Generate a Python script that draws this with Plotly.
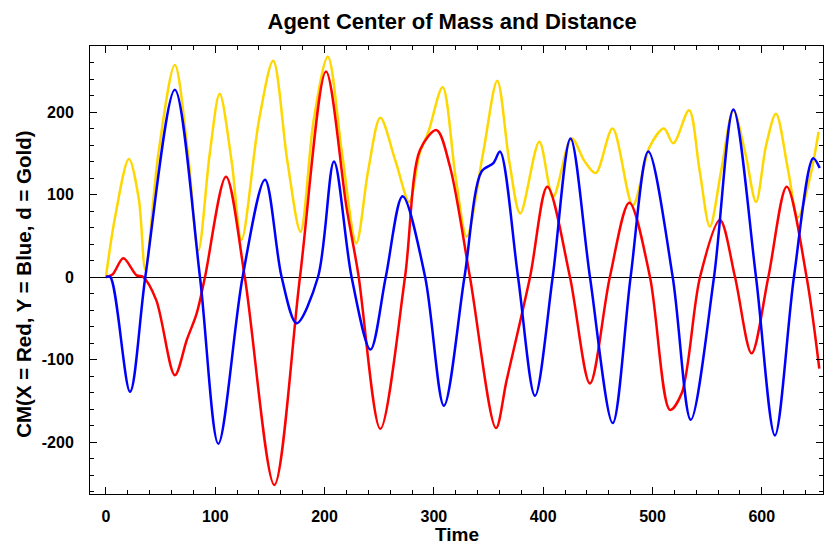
import plotly.graph_objects as go

# Gold: distance d
gold_t = [0, 8, 21, 30, 36, 48, 63, 75, 84.5, 95, 104, 115, 124, 140, 153, 166, 178, 190, 203,
          216, 229, 240, 251, 265, 277.5, 287, 295, 308, 320, 330, 345, 358, 369, 379, 396.5,
          409, 426, 438, 448, 463.5, 482, 497.5, 510.5, 519, 533.5, 543, 552.5, 563, 574, 585,
          594.7, 604, 613, 624, 633, 644, 652]
gold_v = [0, 70, 143, 95, 9, 150, 257, 150, 32, 150, 222, 140, 45, 190, 262, 140, 55, 190, 267,
          150, 41, 130, 193, 140, 91, 150, 176, 230, 120, 49, 150, 238, 140, 77, 164,
          97, 168, 140, 126, 180, 87, 158, 180, 162, 202, 130, 61, 130, 202, 150,
          91, 160, 198, 130, 72, 120, 176]

# Blue: Y
blue_t = [0, 4, 22, 36, 63, 86, 102.8, 125, 145.5, 160.7, 174.4, 194, 208.6, 224.7, 242, 256,
          271.4, 292, 309.2, 328, 343.7, 354.4, 360.5, 377, 392.5, 408.7, 425, 442.8, 463.6,
          480, 496.2, 518.5, 535, 556.3, 574, 594.7, 612, 629.4, 647, 653]
blue_v = [0, 0, -139, 0, 227, 0, -202, 0, 118, 0, -56, 0, 140, 0, -88, 0,
          98, 0, -156, 0, 128, 138, 152, 0, -144, 0, 168, 0, -177,
          0, 152, 0, -173, 0, 203, 0, -192, 0, 144, 132]

# Red: X
red_t = [0, 6, 15.9, 28, 34, 46, 63, 74, 83, 90.6, 109.8, 127, 154, 177.5, 201.3, 220, 230.8,
         251, 273.6, 287.3, 302.5, 314.7, 333, 356.8, 366.6, 388, 403.8, 424.5, 442.8, 461,
         478.8, 497.7, 516, 526.7, 543.5, 561.7, 575.5, 590.7, 606, 622.8, 641, 652.6]
red_v = [0, 3, 22.6, 2, 0, -28, -119, -76, -44, 0, 121.6, 0, -252, 0, 249, 85, 4,
         -184, 0, 154, 178, 134, 0, -183, -125, 0, 109.5, 0, -129, 0,
         90, 0, -161, -141, 0, 69, 0, -92.5, 0, 109.5, 0, -111]

x_ticks = [0, 100, 200, 300, 400, 500, 600]
y_ticks = [-200, -100, 0, 100, 200]
y_tick_text = ["-200", "-100", "0", "100", "200"]

FONT = "Liberation Sans, Arial, sans-serif"
LW = 2.5

fig = go.Figure()
fig.add_trace(go.Scatter(x=gold_t, y=gold_v, mode="lines", line=dict(color="#FFD700", width=LW, shape="spline", smoothing=0.9), name="d"))
fig.add_trace(go.Scatter(x=red_t, y=red_v, mode="lines", line=dict(color="#FF0000", width=LW, shape="spline", smoothing=0.9), name="X"))
fig.add_trace(go.Scatter(x=blue_t, y=blue_v, mode="lines", line=dict(color="#0000FF", width=LW, shape="spline", smoothing=0.9), name="Y"))

fig.update_layout(
    width=825, height=546,
    margin=dict(l=90, r=2, t=46, b=52),
    paper_bgcolor="white", plot_bgcolor="white",
    showlegend=False,
    font=dict(family=FONT, color="black"),
    title=dict(text="Agent Center of Mass and Distance", x=0.548, xanchor="center", y=0.961, yanchor="middle",
               font=dict(family=FONT, size=22, weight="bold", color="black")),
    xaxis=dict(range=[-14.6, 656], tickvals=x_ticks, ticks="inside", ticklen=7, tickcolor="black",
               mirror="allticks", showline=True, linecolor="black", linewidth=1, showgrid=False, zeroline=False,
               minor=dict(dtick=20, tick0=0, ticks="inside", ticklen=4, tickcolor="black", showgrid=False),
               tickfont=dict(family=FONT, size=16, weight="bold"), ticklabelstandoff=8),
    yaxis=dict(range=[-263, 280], tickvals=y_ticks, ticktext=y_tick_text, ticks="inside", ticklen=7, tickcolor="black",
               mirror="allticks", showline=True, linecolor="black", linewidth=1, showgrid=False,
               zeroline=True, zerolinecolor="black", zerolinewidth=1,
               minor=dict(dtick=20, tick0=0, ticks="inside", ticklen=4, tickcolor="black", showgrid=False),
               tickfont=dict(family=FONT, size=16, weight="bold"), ticklabelstandoff=12),
    annotations=[
        dict(text="Time", xref="paper", yref="paper", x=0.5, y=-0.09, xanchor="center", yanchor="middle",
             showarrow=False, font=dict(family=FONT, size=19, weight="bold")),
        dict(text="CM(X = Red, Y = Blue, d = Gold)", xref="paper", yref="paper", x=-0.09, y=0.467,
             xanchor="center", yanchor="middle", textangle=-90,
             showarrow=False, font=dict(family=FONT, size=20.5, weight="bold")),
    ],
)

fig.write_html("out.html")
